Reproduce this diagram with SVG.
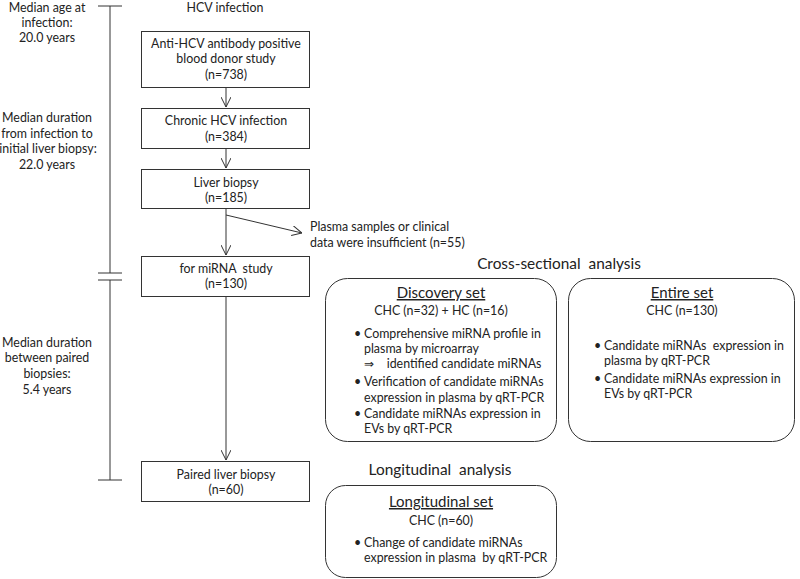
<svg xmlns="http://www.w3.org/2000/svg" width="800" height="579" viewBox="0 0 800 579">
<defs>
<style>
text{font-family:Lato,"Open Sans","Liberation Sans",sans-serif;font-size:12.4px;fill:#222}
.c{text-anchor:middle}
.h{font-size:15.4px}
.u{font-size:15px;text-decoration:underline}
.box{fill:#fff;stroke:#333;stroke-width:1}
.ln{stroke:#333;stroke-width:1;fill:none}
</style>
<marker id="ah" viewBox="0 0 10 10" refX="10" refY="5" markerWidth="10" markerHeight="10" markerUnits="userSpaceOnUse" orient="auto">
<path d="M0,0 L10,5 L0,10" fill="none" stroke="#333" stroke-width="1"/>
</marker>
</defs>
<rect width="800" height="579" fill="#fff"/>
<g id="timeline">
<line class="ln" x1="110" y1="6" x2="110" y2="273"/>
<line class="ln" x1="98" y1="6" x2="122" y2="6"/>
<line class="ln" x1="98" y1="273" x2="122" y2="273"/>
<line class="ln" x1="98" y1="280" x2="122" y2="280"/>
<line class="ln" x1="110" y1="280" x2="110" y2="480"/>
<line class="ln" x1="98" y1="480" x2="122" y2="480"/>
<text class="c" x="47" y="12">Median age at</text>
<text class="c" x="47" y="27">infection:</text>
<text class="c" x="47" y="42">20.0 years</text>
<text class="c" x="47" y="122">Median duration</text>
<text class="c" x="47" y="138">from infection to</text>
<text class="c" x="48" y="153">initial liver biopsy:</text>
<text class="c" x="47" y="169">22.0 years</text>
<text class="c" x="47" y="347">Median duration</text>
<text class="c" x="47" y="362">between paired</text>
<text class="c" x="47" y="378">biopsies:</text>
<text class="c" x="47" y="394">5.4 years</text>
</g>
<g id="connectors">
<line class="ln" x1="226" y1="87" x2="226" y2="107" marker-end="url(#ah)"/>
<line class="ln" x1="226" y1="148" x2="226" y2="168" marker-end="url(#ah)"/>
<line class="ln" x1="226" y1="208" x2="226" y2="255" marker-end="url(#ah)"/>
<line class="ln" x1="226" y1="215" x2="302" y2="233" marker-end="url(#ah)"/>
<line class="ln" x1="226" y1="296" x2="226" y2="460" marker-end="url(#ah)"/>
</g>
<g id="hcv">
<text class="c" x="225" y="12">HCV infection</text>
</g>
<g id="n1">
<rect class="box" x="141.5" y="31.5" width="168" height="56"/>
<text class="c" x="226" y="48">Anti-HCV antibody positive</text>
<text class="c" x="226" y="63">blood donor study</text>
<text class="c" x="226" y="79">(n=738)</text>
</g>
<g id="n2">
<rect class="box" x="141.5" y="108.5" width="168" height="40"/>
<text class="c" x="226" y="125">Chronic HCV infection</text>
<text class="c" x="226" y="141">(n=384)</text>
</g>
<g id="n3">
<rect class="box" x="141.5" y="169.5" width="168" height="39"/>
<text class="c" x="226" y="187">Liver biopsy</text>
<text class="c" x="226" y="202">(n=185)</text>
</g>
<g id="excl">
<text x="310" y="231">Plasma samples or clinical</text>
<text x="310" y="247">data were insufficient (n=55)</text>
</g>
<g id="n4">
<rect class="box" x="141.5" y="256.5" width="168" height="40"/>
<text class="c" x="226" y="273" xml:space="preserve">for miRNA  study</text>
<text class="c" x="226" y="288">(n=130)</text>
</g>
<g id="n5">
<rect class="box" x="141.5" y="461.5" width="168" height="40"/>
<text class="c" x="226" y="479">Paired liver biopsy</text>
<text class="c" x="226" y="494">(n=60)</text>
</g>
<g id="cross">
<text class="c h" x="559" y="269" xml:space="preserve">Cross-sectional  analysis</text>
</g>
<g id="discovery">
<rect class="box" x="325.5" y="278.5" width="231" height="163" rx="22"/>
<text class="c u" x="441" y="298">Discovery set</text>
<text class="c" x="441" y="315">CHC (n=32) + HC (n=16)</text>
<text x="354" y="338">•</text>
<text x="364" y="338">Comprehensive miRNA profile in</text>
<text x="364" y="353">plasma by microarray</text>
<text x="364" y="368" xml:space="preserve">⇒    identified candidate miRNAs</text>
<text x="354" y="386">•</text>
<text x="364" y="386">Verification of candidate miRNAs</text>
<text x="364" y="402">expression in plasma by qRT-PCR</text>
<text x="354" y="418">•</text>
<text x="364" y="418">Candidate miRNAs expression in</text>
<text x="364" y="433">EVs by qRT-PCR</text>
</g>
<g id="entire">
<rect class="box" x="568.5" y="278.5" width="226" height="163" rx="22"/>
<text class="c u" x="682" y="298">Entire set</text>
<text class="c" x="682" y="315">CHC (n=130)</text>
<text x="594" y="350">•</text>
<text x="604" y="350" xml:space="preserve">Candidate miRNAs  expression in</text>
<text x="604" y="365">plasma by qRT-PCR</text>
<text x="594" y="383">•</text>
<text x="604" y="383">Candidate miRNAs expression in</text>
<text x="604" y="398">EVs by qRT-PCR</text>
</g>
<g id="longi">
<text class="c h" x="440" y="475" xml:space="preserve">Longitudinal  analysis</text>
</g>
<g id="longset">
<rect class="box" x="325.5" y="485.5" width="231" height="92" rx="20"/>
<text class="c u" x="441" y="507">Longitudinal set</text>
<text class="c" x="441" y="525">CHC (n=60)</text>
<text x="354" y="547">•</text>
<text x="364" y="547">Change of candidate miRNAs</text>
<text x="364" y="562" xml:space="preserve">expression in plasma  by qRT-PCR</text>
</g>
</svg>
